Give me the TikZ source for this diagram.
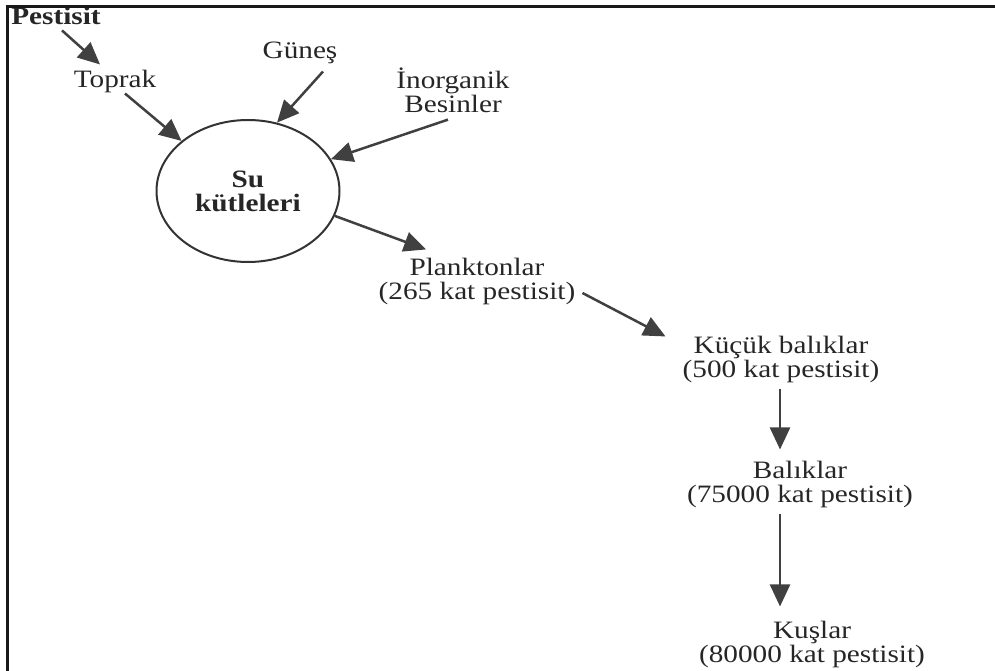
\documentclass[tikz,border=0pt]{standalone}
\usepackage{fontspec}
\setmainfont{Liberation Serif}[FakeStretch=1.17]
\usetikzlibrary{arrows.meta, shapes.geometric}

\begin{document}
\begin{tikzpicture}[x=1pt, y=-1pt,
    lbl/.style={text=black!85, inner sep=2pt, align=center, font=\fontsize{25}{24}\selectfont},
    arr/.style={draw=black!75, line width=2.5pt, -{Triangle[length=22pt, width=20pt]}}]
  \useasboundingbox (0,0) rectangle (995,671);
  % sources
  \node[lbl, anchor=base, font=\fontsize{25}{24}\selectfont\bfseries] (pestisit) at (56,25) {Pestisit};
  \node[lbl, anchor=base] (toprak) at (115,88) {Toprak};
  \node[lbl, anchor=base] (gunes) at (300,59) {Güneş};
  \node[lbl] (inorg) at (453,90) {İnorganik\\Besinler};
  \node[ellipse, draw=black!80, line width=2pt, minimum width=183pt, minimum height=142pt,
    inner sep=0pt, align=center, text=black!85, font=\fontsize{25}{24}\selectfont\bfseries] (su) at (248,191) {Su\\kütleleri};
  % food chain
  \node[lbl] (plankton) at (477,281) {Planktonlar\\(265 kat pestisit)};
  \node[lbl] (kucuk) at (781,359) {Küçük balıklar\\(500 kat pestisit)};
  \node[lbl] (balik) at (800,484) {Balıklar\\(75000 kat pestisit)};
  \node[lbl] (kus) at (812,644) {Kuşlar\\(80000 kat pestisit)};
  % arrows
  \draw[arr] ([shift={(6,3)}]pestisit.south) -- ([shift={(-15,-4)}]toprak.north);
  \draw[arr] ([shift={(10,-2)}]toprak.south) -- (su.143);
  \draw[arr] ([shift={(23,5)}]gunes.south) -- (su.67);
  \draw[arr] ([shift={(-5,5)}]inorg.south) -- (su.21);
  \draw[arr] (su.-16) -- ([shift={(-51,-6)}]plankton.north);
  \draw[arr] ([shift={(5,12)}]plankton.east) -- ([shift={(-15,3)}]kucuk.north west);
  \draw[arr] ([shift={(-1,4)}]kucuk.south) -- ([shift={(-20,-9)}]balik.north);
  \draw[arr] ([shift={(-20,4)}]balik.south) -- ([shift={(-32,-12)}]kus.north);
  % frame
  \draw[line width=3pt, black!90] (7,671) -- (7,7) -- (995,7);
\end{tikzpicture}
\end{document}
